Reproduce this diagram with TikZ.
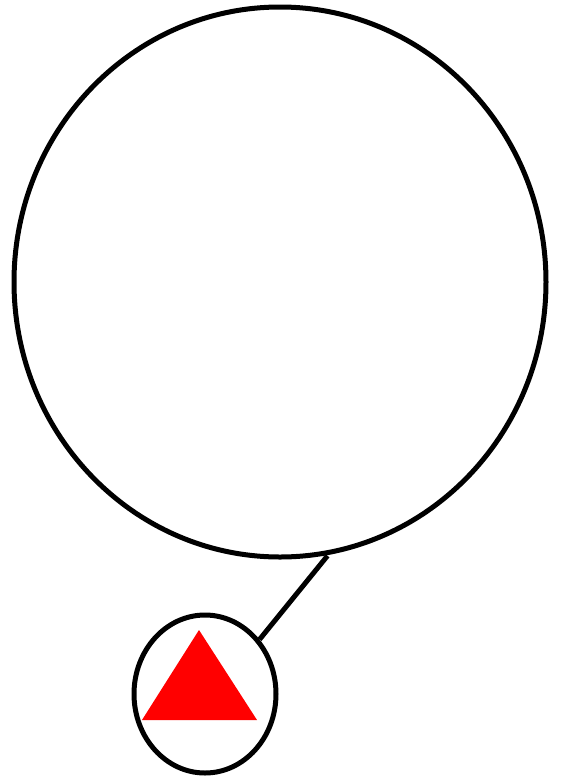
\documentclass[tikz,border=0pt]{standalone}
\usetikzlibrary{shapes.geometric}
\begin{document}
\begin{tikzpicture}[x=1pt,y=-1pt,
  ring/.style={ellipse,draw=black,line width=5pt,inner sep=0pt,fill=white},
  link/.style={draw=black,line width=5pt}]
\fill[white] (0,0) rectangle (561,780);
\useasboundingbox (0,0) rectangle (561,780);
\node[ring,minimum width=532pt,minimum height=550pt] (big) at (280,282) {};
\node[ring,minimum width=142pt,minimum height=158pt] (small) at (205,694) {};
\draw[link,shorten <=1pt] (big.-80) -- (small.45);
\fill[red] (199,630) -- (257,720) -- (142,720) -- cycle;
\end{tikzpicture}
\end{document}
